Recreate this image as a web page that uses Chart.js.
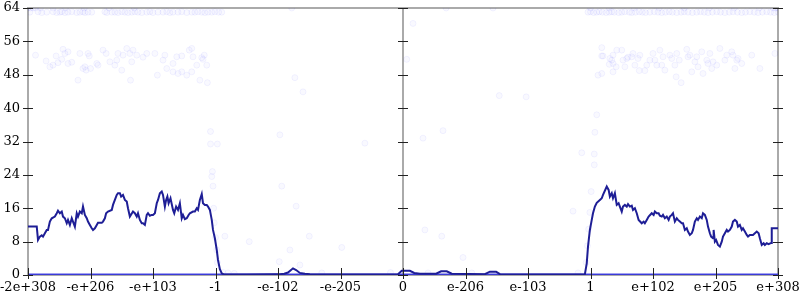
<!DOCTYPE html>
<html><head><meta charset="utf-8">
<script src="https://cdn.jsdelivr.net/npm/chart.js@4/dist/chart.umd.min.js"></script>
<style>html,body{margin:0;padding:0;background:#fff}#wrap{width:800px;height:300px}</style>
</head><body><div id="wrap"><canvas id="c" width="800" height="300"></canvas></div>
<script>
// x axis: linear positions -6..6, labelled with these tick labels
const xLabels = ['-2e+308','-e+206','-e+103','-1','-e-102','-e-205','0','e-206','e-103','1','e+102','e+205','e+308'];
const yMin = 0, yMax = 64, yStep = 4;

// main line (x, y), in three stretches that join into one trace
const lineLeft = [[-6.00,11.6],[-5.86,11.6],[-5.84,8.4],[-5.81,9.2],[-5.78,9.5],[-5.76,9.2],[-5.73,10.0],[-5.70,10.8],[-5.68,10.8],[-5.65,12.8],[-5.62,13.6],[-5.57,14.0],[-5.54,14.8],[-5.52,15.4],[-5.49,14.8],[-5.46,15.2],[-5.44,14.0],[-5.41,13.6],[-5.38,12.4],[-5.36,13.2],[-5.33,12.0],[-5.30,13.6],[-5.28,12.8],[-5.25,11.6],[-5.22,14.8],[-5.20,14.0],[-5.17,15.2],[-5.14,14.8],[-5.12,16.4],[-5.09,14.4],[-5.06,13.6],[-5.04,12.8],[-5.01,12.0],[-4.98,11.2],[-4.96,10.8],[-4.93,11.2],[-4.90,12.0],[-4.88,12.5],[-4.82,12.5],[-4.80,12.8],[-4.77,13.6],[-4.75,14.8],[-4.72,15.2],[-4.66,15.6],[-4.64,16.8],[-4.61,18.0],[-4.58,19.2],[-4.56,19.6],[-4.53,19.6],[-4.51,18.8],[-4.48,19.2],[-4.45,18.0],[-4.42,17.6],[-4.40,16.0],[-4.37,14.0],[-4.32,15.2],[-4.29,14.8],[-4.26,14.0],[-4.24,14.8],[-4.21,13.2],[-4.18,12.4],[-4.16,12.4],[-4.13,12.0],[-4.10,14.4],[-4.08,14.8],[-4.05,14.2],[-4.02,14.4],[-4.00,14.4],[-3.97,14.8],[-3.94,17.2],[-3.92,18.0],[-3.89,19.6],[-3.86,20.0],[-3.84,19.2],[-3.81,16.4],[-3.79,18.0],[-3.77,18.8],[-3.75,17.2],[-3.72,18.4],[-3.68,15.6],[-3.66,14.8],[-3.63,16.4],[-3.60,15.6],[-3.57,17.2],[-3.54,13.6],[-3.52,14.4],[-3.49,13.4],[-3.46,13.6],[-3.43,14.4],[-3.41,14.8],[-3.36,15.2],[-3.33,15.2],[-3.30,16.0],[-3.28,15.6],[-3.25,18.0],[-3.22,19.4],[-3.20,17.2],[-3.17,16.8],[-3.14,16.8],[-3.12,16.4],[-3.09,15.6],[-3.06,13.2],[-3.04,10.8],[-3.01,8.8],[-2.98,6.0],[-2.96,3.6],[-2.93,1.4],[-2.90,0.4],[-2.86,0.1]];
const lineMiddle = [[-2.5,0.1],[-2.0,0.15],[-1.90,0.3],[-1.84,0.6],[-1.76,1.6],[-1.71,1.2],[-1.65,0.5],[-1.57,0.3],[-1.49,0.2],[-1.0,0.1],[-0.5,0.1],[-0.08,0.2],[-0.02,1.0],[0.11,1.0],[0.18,0.5],[0.27,0.3],[0.53,0.3],[0.61,0.9],[0.70,0.9],[0.78,0.3],[1.31,0.2],[1.39,0.8],[1.49,0.8],[1.55,0.2],[2.0,0.1],[2.5,0.1],[2.91,0.2]];
const lineRight = [[2.94,2.8],[2.96,6.8],[2.99,10.8],[3.02,13.2],[3.04,14.8],[3.07,16.4],[3.10,17.3],[3.15,18.0],[3.18,18.4],[3.20,19.2],[3.26,21.2],[3.29,20.4],[3.31,18.8],[3.34,19.6],[3.36,18.4],[3.39,19.6],[3.42,16.8],[3.45,17.2],[3.47,16.4],[3.50,15.2],[3.52,16.4],[3.55,16.8],[3.58,16.4],[3.60,17.0],[3.63,16.4],[3.66,16.6],[3.68,15.6],[3.71,16.0],[3.74,14.8],[3.77,13.2],[3.82,12.4],[3.85,12.8],[3.87,12.4],[3.90,13.2],[3.93,14.0],[3.98,14.8],[4.01,14.4],[4.03,15.2],[4.06,14.8],[4.09,14.8],[4.11,14.2],[4.14,14.0],[4.16,14.4],[4.19,13.6],[4.22,14.0],[4.25,13.2],[4.27,14.0],[4.30,14.4],[4.32,14.8],[4.35,12.8],[4.38,13.6],[4.40,13.2],[4.43,12.8],[4.46,12.4],[4.48,12.4],[4.51,10.8],[4.54,11.2],[4.56,10.4],[4.59,9.6],[4.62,10.0],[4.64,10.8],[4.67,12.8],[4.70,13.6],[4.72,13.2],[4.75,14.0],[4.78,13.6],[4.80,14.8],[4.83,14.4],[4.86,13.2],[4.88,11.6],[4.91,10.0],[4.93,9.2],[4.96,8.8],[4.97,10.8],[4.99,8.0],[5.01,8.4],[5.04,7.2],[5.07,6.8],[5.10,8.0],[5.12,9.2],[5.15,10.0],[5.18,10.8],[5.20,10.4],[5.23,10.8],[5.26,11.6],[5.28,12.8],[5.31,13.2],[5.34,12.8],[5.36,11.6],[5.39,12.0],[5.42,10.8],[5.44,11.2],[5.47,10.4],[5.50,9.6],[5.52,9.2],[5.55,9.6],[5.60,9.6],[5.63,10.0],[5.66,10.4],[5.69,10.0],[5.71,8.8],[5.74,7.2],[5.77,7.6],[5.79,7.2],[5.82,7.6],[5.85,7.4],[5.89,7.7],[5.90,11.2],[6.00,11.2]];

// samples sitting on zero (dense row)
const zeroRow = [[-6,0],[-3,0],[0,0],[3,0],[6,0]];

// faint sample dots
const dotsTop = [[-5.97,63.0],[-5.84,63.1],[-5.78,62.9],[-5.70,63.0],[-5.60,63.1],[-5.54,62.9],[-5.49,63.0],[-5.46,63.1],[-5.41,62.9],[-5.36,63.0],[-5.30,63.1],[-5.22,62.9],[-5.17,63.0],[-5.12,63.1],[-5.09,62.9],[-5.04,63.0],[-4.98,63.0],[-4.77,63.1],[-4.74,62.9],[-4.66,63.0],[-4.61,63.0],[-4.56,62.9],[-4.50,63.1],[-4.45,63.0],[-4.40,62.9],[-4.34,63.0],[-4.29,63.1],[-4.24,63.0],[-4.18,62.9],[-4.10,63.0],[-4.05,63.1],[-4.00,62.9],[-3.92,63.0],[-3.84,63.0],[-3.78,63.1],[-3.73,62.9],[-3.68,63.0],[-3.60,63.0],[-3.54,63.1],[-3.46,62.9],[-3.38,63.0],[-3.33,63.0],[-3.28,63.1],[-3.22,63.0],[-3.17,62.9],[-3.12,63.0],[-3.06,63.0],[-3.01,63.1],[-2.95,63.0],[-2.90,63.0],
  [2.96,63.0],[3.00,63.1],[3.05,62.9],[3.10,63.0],[3.14,63.1],[3.19,63.0],[3.25,62.9],[3.30,63.0],[3.34,63.1],[3.38,63.0],[3.45,62.9],[3.50,63.0],[3.55,63.1],[3.62,63.0],[3.66,62.9],[3.72,63.0],[3.78,63.1],[3.83,63.0],[3.88,62.9],[3.95,63.0],[4.02,63.1],[4.08,63.0],[4.14,62.9],[4.20,63.0],[4.26,63.1],[4.31,63.0],[4.38,62.9],[4.45,63.0],[4.50,63.1],[4.56,63.0],[4.63,62.9],[4.70,63.0],[4.76,63.1],[4.82,63.0],[4.88,62.9],[4.95,63.0],[5.02,63.1],[5.08,63.0],[5.15,62.9],[5.22,63.0],[5.28,63.1],[5.35,63.0],[5.42,62.9],[5.48,63.0],[5.55,63.1],[5.62,63.0],[5.68,62.9],[5.75,63.0],[5.82,63.1],[5.88,63.0],[5.94,62.9],[6.00,63.0]];
const dotsEdge = [[-6.0,64],[-5.96,64],[-5.92,64],[-5.88,64],[-5.8,64],[-5.6,64],[-5.4,64],[-5.1,64],[-4.7,64],[-4.3,64],[-1.78,64],[0.69,64],[1.44,64],[3.0,64],[3.3,64],[3.7,64],[4.1,64],[4.5,64],[4.9,64],[5.3,64],[5.7,64],[5.92,64],[5.96,64],[6.0,64]];
const dotsMidLeft = [[-5.88,52.7],[-5.71,51.3],[-5.65,49.9],[-5.60,50.3],[-5.55,52.5],[-5.52,50.9],[-5.46,51.7],[-5.44,54.1],[-5.41,53.1],[-5.36,53.5],[-5.36,50.7],[-5.30,51.0],[-5.20,46.7],[-5.17,53.1],[-5.12,49.5],[-5.09,49.9],[-5.07,49.1],[-5.04,53.1],[-5.02,52.5],[-5.00,49.5],[-4.90,50.7],[-4.88,50.3],[-4.80,53.9],[-4.75,53.1],[-4.69,51.1],[-4.61,50.3],[-4.58,51.5],[-4.56,53.1],[-4.50,49.1],[-4.48,52.7],[-4.42,54.3],[-4.37,53.1],[-4.36,46.7],[-4.34,51.1],[-4.32,53.9],[-4.26,52.7],[-4.16,52.2],[-4.10,53.1],[-3.97,53.1],[-3.93,47.9],[-3.84,51.5],[-3.81,52.7],[-3.78,49.5],[-3.68,50.7],[-3.68,48.7],[-3.62,52.3],[-3.60,48.3],[-3.54,52.5],[-3.54,48.7],[-3.46,47.9],[-3.42,53.9],[-3.38,54.3],[-3.38,48.7],[-3.36,52.3],[-3.30,50.3],[-3.25,46.7],[-3.22,52.1],[-3.18,52.7],[-3.14,50.3],[-3.13,46.1],[-3.20,51.7]];
const dotsMidRight = [[3.18,54.5],[3.18,52.5],[3.36,52.7],[3.42,53.9],[3.34,51.5],[3.36,50.7],[3.30,50.5],[3.41,49.9],[3.18,48.3],[3.12,47.9],[3.36,48.7],[3.20,52.5],[3.31,51.9],[3.50,53.9],[3.52,51.5],[3.55,49.9],[3.58,51.9],[3.60,52.2],[3.66,52.3],[3.68,53.1],[3.71,50.3],[3.76,51.9],[3.79,52.7],[3.78,49.0],[3.87,49.0],[3.90,50.3],[3.95,51.5],[4.00,53.1],[4.03,51.5],[4.06,50.3],[4.11,53.9],[4.14,50.3],[4.16,52.3],[4.19,49.1],[4.27,52.7],[4.30,51.9],[4.35,50.3],[4.38,53.1],[4.37,47.5],[4.42,51.5],[4.45,46.1],[4.54,54.1],[4.56,52.3],[4.59,52.7],[4.62,48.7],[4.67,51.1],[4.70,52.3],[4.72,49.9],[4.78,53.5],[4.80,48.3],[4.86,51.5],[4.91,53.1],[4.88,50.7],[4.94,49.5],[4.96,51.1],[5.02,50.3],[5.07,54.3],[5.15,51.5],[5.18,52.7],[5.26,53.5],[5.28,52.7],[5.31,49.5],[5.34,51.5],[5.36,51.9],[5.42,50.7],[5.58,52.7],[5.71,49.5],[5.95,53.1]];
const dotsSparse = [[-3.08,34.4],[-3.08,31.4],[-2.97,31.4],[-1.73,47.3],[-1.60,43.9],[-1.97,33.6],[-0.61,31.6],[0.16,60.3],[0.06,51.7],[1.54,43.0],[1.97,42.7],[0.64,34.6],[0.32,32.8],[3.10,38.4],[3.07,34.2],[-3.05,24.8],[-3.06,23.6],[-3.04,21.3],[-1.94,21.3],[-3.03,16.0],[-3.02,12.5],[-3.00,9.0],[-2.98,6.0],[-2.97,3.0],[-2.85,9.3],[-2.46,8.0],[-1.71,16.5],[-1.50,9.3],[-0.98,6.6],[-1.81,6.0],[-1.98,3.2],[-1.65,2.4],[0.35,10.8],[0.62,9.3],[0.96,4.2],[2.72,15.3],[2.86,29.3],[3.06,29.0],[3.06,26.4],[2.93,3.0],[2.95,7.0],[2.97,11.0],[2.99,15.0],[3.01,20.0],[-2.88,0.6],[-2.80,0.5],[-2.70,0.4],[-1.3,0.5],[-0.2,0.6],[0.4,0.5],[1.1,0.5],[2.8,0.5]];

const toPts = arr => arr.map(([x, y]) => ({x, y}));
const mainLine = lineLeft.concat(lineMiddle, lineRight);
const dotStyle = {type:'scatter', showLine:false, pointRadius:3, pointBackgroundColor:'rgba(0,0,255,0.025)', pointBorderColor:'rgba(0,0,255,0.05)', pointBorderWidth:1};
const FONT = {family:'DejaVu Serif', size:13};

const axisPlugin = {
  id:'customAxes',
  beforeDatasetsDraw(chart){
    const {ctx, chartArea:a, scales:{x}} = chart;
    ctx.save();
    ctx.strokeStyle = '#aaaaaa'; ctx.lineWidth = 2;
    const x0 = x.getPixelForValue(0);
    ctx.beginPath();
    ctx.moveTo(a.left, a.top); ctx.lineTo(a.right, a.top);
    ctx.moveTo(a.left, a.bottom); ctx.lineTo(a.right, a.bottom);
    [a.left, x0, a.right].forEach(px => { ctx.moveTo(px, a.top - 1); ctx.lineTo(px, a.bottom + 1); });
    ctx.stroke();
    ctx.restore();
  },
  afterDatasetsDraw(chart){
    const {ctx, chartArea:a, scales:{x, y}} = chart;
    ctx.save();
    ctx.strokeStyle = '#222'; ctx.lineWidth = 1;
    ctx.beginPath();
    const cols = [a.left, x.getPixelForValue(0), a.right];
    y.ticks.forEach(t => {
      const py = Math.round(y.getPixelForValue(t.value)) + 0.5;
      const half = (t.value % 8 === 0) ? 5 : 2.5;
      cols.forEach(cx => { ctx.moveTo(cx - half, py); ctx.lineTo(cx + half, py); });
    });
    x.ticks.forEach(t => {
      const px = Math.round(x.getPixelForValue(t.value)) + 0.5;
      ctx.moveTo(px, a.bottom - 7); ctx.lineTo(px, a.bottom + 4);
    });
    ctx.stroke();
    ctx.restore();
  }
};

new Chart(document.getElementById('c'), {
  type:'scatter',
  data:{datasets:[
    {type:'line', data:toPts(mainLine), borderColor:'#1e1e96', borderWidth:2, pointRadius:0, fill:false, tension:0},
    {type:'line', data:toPts(zeroRow), borderColor:'rgba(40,40,225,0.85)', borderWidth:3, pointRadius:0, fill:false},
    Object.assign({data:toPts(dotsTop)}, dotStyle),
    Object.assign({data:toPts(dotsEdge)}, dotStyle),
    Object.assign({data:toPts(dotsMidLeft)}, dotStyle),
    Object.assign({data:toPts(dotsMidRight)}, dotStyle),
    Object.assign({data:toPts(dotsSparse)}, dotStyle)
  ]},
  options:{
    responsive:false, animation:false,
    layout:{padding:{top:8, right:22, left:0, bottom:0}},
    plugins:{legend:{display:false}, tooltip:{enabled:false}},
    scales:{
      x:{type:'linear', min:-6, max:6, border:{display:false},
         grid:{display:false, drawTicks:false},
         ticks:{stepSize:1, autoSkip:false, maxRotation:0, minRotation:0, padding:5, color:'#000', font:FONT,
                callback:v => xLabels[Math.round(v) + 6]},
         afterFit:s => { s.height = 25; s.paddingLeft = 0; s.paddingRight = 0; }},
      y:{type:'linear', min:yMin, max:yMax, border:{display:false},
         grid:{display:false, drawTicks:false},
         ticks:{stepSize:yStep, padding:8, color:'#000', font:FONT,
                callback:v => (v % 8 === 0 ? String(v) : '')},
         afterFit:s => { s.width = 28; s.paddingTop = 0; s.paddingBottom = 0; }}
    }
  },
  plugins:[axisPlugin]
});
</script></body></html>
